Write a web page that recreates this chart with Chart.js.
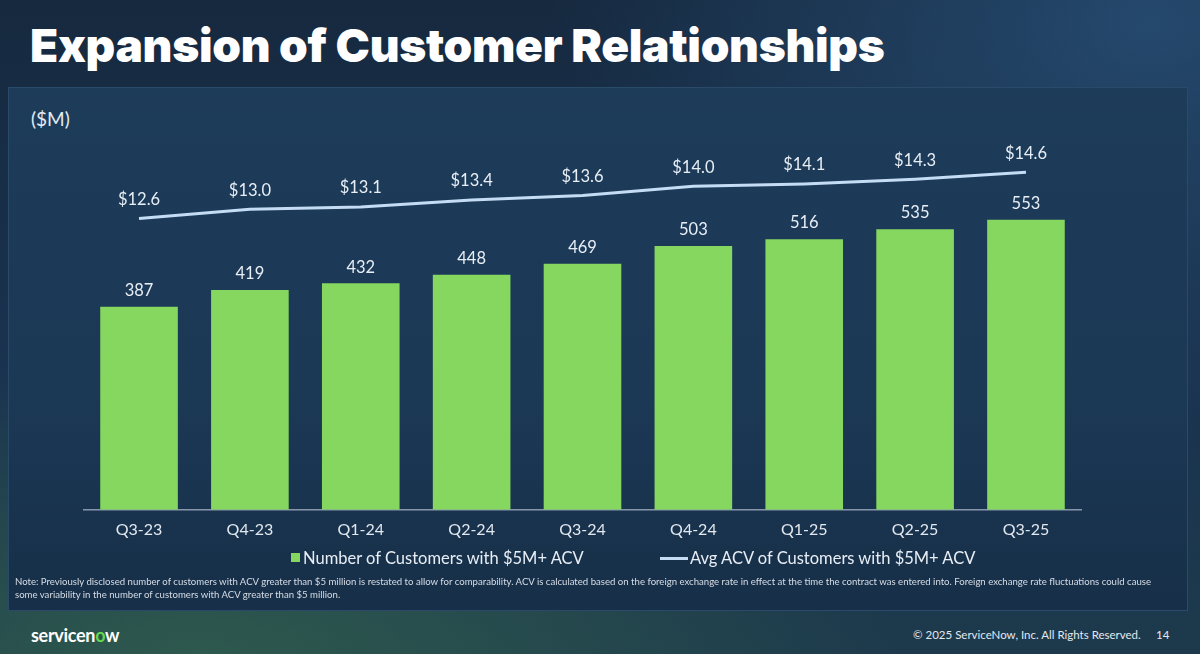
<!DOCTYPE html>
<html>
<head>
<meta charset="utf-8">
<script src="https://cdn.jsdelivr.net/npm/chart.js@4"></script>
<style>
  html, body { margin: 0; padding: 0; }
  body {
    width: 1200px; height: 654px; overflow: hidden; position: relative;
    font-family: Lato, "Open Sans", sans-serif;
    background:
      radial-gradient(ellipse 700px 300px at 200px 660px, rgba(52,100,78,0.75), rgba(52,100,78,0) 100%),
      radial-gradient(ellipse 600px 400px at 1150px 20px, rgba(40,80,120,0.8), rgba(40,80,120,0) 100%),
      linear-gradient(180deg, #16293f 0%, #1a3350 60%, #1d3a4c 100%);
  }
  #title {
    position: absolute; left: 30px; top: 16px; margin: 0;
    font-family: Inter, Lato, sans-serif;
    font-size: 46px; font-weight: 900; color: #ffffff; letter-spacing: -0.3px;
    line-height: 58px; white-space: nowrap;
  }
  #panel {
    position: absolute; left: 8px; top: 87px; width: 1178px; height: 522px;
    border: 1px solid #2a4a69;
    background: linear-gradient(180deg, #1d3c5a 0%, #1b3855 60%, #172f48 100%);
  }
  #unit { position: absolute; left: 31px; top: 107px; font-size: 19px; color: #e4ebf3; }
  #wrap { position: absolute; left: 8px; top: 87px; width: 1179px; height: 472px; }
  #legend {
    position: absolute; top: 548px; left: 0; width: 1200px; height: 20px;
    font-size: 16.5px; color: #e8eef5;
  }
  #legend .sq { position: absolute; left: 291px; top: 5px; width: 9px; height: 9px; background: #85d75f; }
  #legend .t1 { position: absolute; left: 303px; top: 0; }
  #legend .ln { position: absolute; left: 660px; top: 9px; width: 28px; height: 3px; background: #c5dcf5; }
  #legend .t2 { position: absolute; left: 690px; top: 0; }
  #note {
    position: absolute; left: 15px; top: 575px; width: 1150px;
    font-size: 9.6px; line-height: 13px; color: #d6dde6;
  }
  #logo { position: absolute; left: 31px; top: 624px; font-size: 18px; font-weight: 700; color: #ffffff; letter-spacing: -0.3px; }
  #logo span { color: #62d84e; }
  #copy { position: absolute; left: 913px; top: 628px; font-size: 11.5px; color: #e2e8ef; }
  #page { position: absolute; left: 1156px; top: 628px; font-size: 11.5px; color: #e2e8ef; }
</style>
</head>
<body>
<h1 id="title">Expansion of Customer Relationships</h1>
<div id="panel"></div>
<div id="unit">($M)</div>
<div id="wrap"><canvas id="mycanvas"></canvas></div>
<div id="legend">
  <div class="sq"></div><div class="t1">Number of Customers with $5M+ ACV</div>
  <div class="ln"></div><div class="t2">Avg ACV of Customers with $5M+ ACV</div>
</div>
<div id="note">Note: Previously disclosed number of customers with ACV greater than $5 million is restated to allow for comparability. ACV is calculated based on the foreign exchange rate in effect at the time the contract was entered into. Foreign exchange rate fluctuations could cause some variability in the number of customers with ACV greater than $5 million.</div>
<div id="logo">servicen<span>o</span>w</div>
<div id="copy">© 2025 ServiceNow, Inc. All Rights Reserved.</div>
<div id="page">14</div>

<script>
var quarters = ['Q3-23', 'Q4-23', 'Q1-24', 'Q2-24', 'Q3-24', 'Q4-24', 'Q1-25', 'Q2-25', 'Q3-25'];
var customers = [387, 419, 432, 448, 469, 503, 516, 535, 553];
var avgAcv = [12.6, 13.0, 13.1, 13.4, 13.6, 14.0, 14.1, 14.3, 14.6];

// value labels above bars and line points
var valueLabels = {
  id: 'valueLabels',
  afterDatasetsDraw: function(chart) {
    var ctx = chart.ctx;
    ctx.save();
    ctx.fillStyle = '#e8eef5';
    ctx.font = '16.5px Lato';
    ctx.textAlign = 'center';
    ctx.textBaseline = 'middle';
    chart.getDatasetMeta(1).data.forEach(function(bar, i) {
      ctx.fillText(customers[i], bar.x, bar.y - 16);
    });
    chart.getDatasetMeta(0).data.forEach(function(pt, i) {
      ctx.fillText('$' + avgAcv[i].toFixed(1), pt.x, pt.y - 19);
    });
    ctx.restore();
  }
};

var chartdata = {
  labels: quarters,
  datasets: [
    {
      type: 'line',
      label: 'Avg ACV of Customers with $5M+ ACV',
      data: avgAcv,
      yAxisID: 'y2',
      borderColor: '#c5dcf5',
      borderWidth: 3,
      pointRadius: 0,
      tension: 0,
      order: 0
    },
    {
      type: 'bar',
      label: 'Number of Customers with $5M+ ACV',
      data: customers,
      yAxisID: 'y',
      backgroundColor: '#85d75f',
      categoryPercentage: 1,
      barPercentage: 0.7,
      order: 1
    }
  ]
};

var ctx = document.getElementById('mycanvas');
var barGraph = new Chart(ctx, {
  data: chartdata,
  plugins: [valueLabels],
  options: {
    responsive: true,
    maintainAspectRatio: false,
    animation: false,
    layout: { padding: { left: 75.6, right: 105.6, top: 53, bottom: 10 } },
    plugins: { legend: { display: false }, tooltip: { enabled: false } },
    scales: {
      x: {
        grid: { display: false, drawTicks: false },
        border: { display: true, color: '#8797ab', width: 1.5 },
        ticks: { color: '#e2e8ef', font: { family: 'Lato', size: 16 }, padding: 10 }
      },
      y: { display: false, min: 0, max: 705 },
      y2: { display: false, min: 0, max: 16 }
    }
  }
});
</script>
</body>
</html>
